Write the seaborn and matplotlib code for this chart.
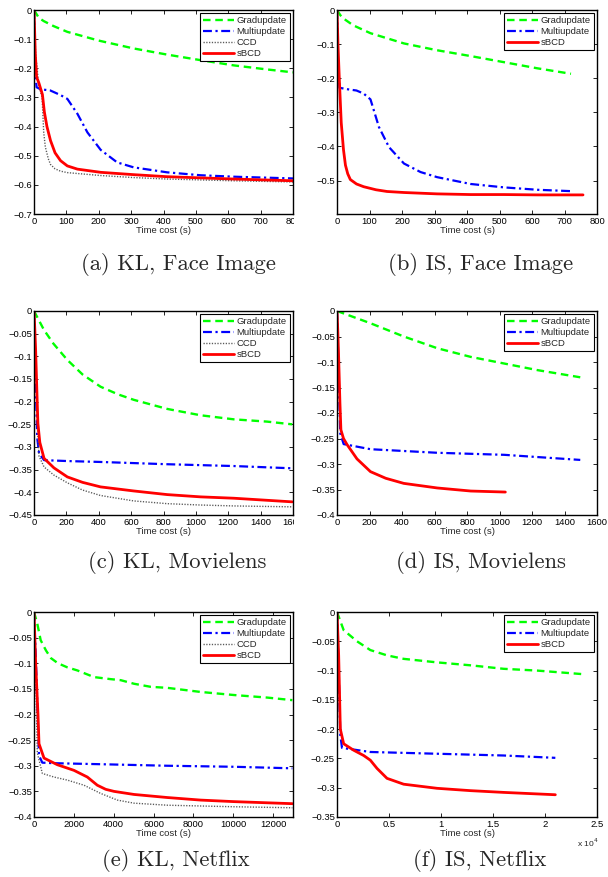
import matplotlib
matplotlib.use("Agg")
import matplotlib.pyplot as plt
import seaborn as sns
from matplotlib.ticker import FuncFormatter, FixedLocator
from matplotlib.transforms import Bbox, TransformedBbox

# ---------------- data ----------------
# (a) KL, Face Image
grad_a_t = [0, 15, 30, 60, 103, 200, 308, 411, 514, 617, 720, 800]
grad_a_v = [0, -0.027, -0.038, -0.055, -0.075, -0.105, -0.132, -0.153, -0.172, -0.19, -0.204, -0.214]
multi_a_t = [0, 3, 8, 20, 50, 82, 103, 134, 165, 206, 257, 308, 411, 514, 617, 800]
multi_a_v = [0, -0.2, -0.265, -0.272, -0.276, -0.292, -0.305, -0.356, -0.42, -0.48, -0.523, -0.54, -0.557, -0.567, -0.572, -0.578]
ccd_a_t = [0, 5, 15, 25, 30, 35, 44, 51, 65, 82, 103, 154, 206, 308, 411, 617, 800]
ccd_a_v = [0, -0.15, -0.26, -0.3, -0.42, -0.47, -0.51, -0.53, -0.545, -0.553, -0.558, -0.563, -0.568, -0.575, -0.58, -0.586, -0.59]
sbcd_a_t = [0, 4, 8, 15, 26, 32, 40, 51, 65, 82, 103, 134, 206, 308, 411, 514, 617, 800]
sbcd_a_v = [0, -0.15, -0.23, -0.25, -0.29, -0.35, -0.4, -0.448, -0.49, -0.517, -0.535, -0.546, -0.557, -0.565, -0.572, -0.576, -0.58, -0.586]

# (b) IS, Face Image
grad_b_t = [0, 10, 20, 50, 103, 206, 308, 411, 514, 617, 720]
grad_b_v = [0, -0.015, -0.025, -0.045, -0.068, -0.098, -0.118, -0.135, -0.153, -0.171, -0.187]
multi_b_t = [0, 3, 8, 30, 60, 82, 103, 129, 160, 206, 257, 308, 411, 514, 617, 720]
multi_b_v = [0, -0.15, -0.228, -0.232, -0.236, -0.245, -0.262, -0.343, -0.402, -0.45, -0.475, -0.49, -0.51, -0.52, -0.527, -0.531]
sbcd_b_t = [0, 3, 7, 10, 13, 20, 26, 33, 41, 60, 82, 120, 154, 206, 308, 411, 514, 617, 757]
sbcd_b_v = [0, -0.1, -0.2, -0.265, -0.33, -0.41, -0.455, -0.48, -0.497, -0.51, -0.518, -0.527, -0.532, -0.535, -0.539, -0.541, -0.541, -0.542, -0.542]

# (c) KL, Movielens
grad_c_t = [0, 62, 120, 206, 300, 411, 520, 617, 823, 1029, 1235, 1440, 1595]
grad_c_v = [0, -0.042, -0.072, -0.108, -0.14, -0.167, -0.184, -0.196, -0.216, -0.23, -0.239, -0.244, -0.25]
multi_c_t = [0, 10, 20, 31, 62, 206, 411, 823, 1235, 1595]
multi_c_v = [0, -0.15, -0.28, -0.314, -0.329, -0.331, -0.333, -0.338, -0.342, -0.347]
ccd_c_t = [0, 10, 20, 31, 62, 123, 206, 300, 411, 617, 823, 1029, 1235, 1595]
ccd_c_v = [0, -0.1, -0.25, -0.32, -0.344, -0.362, -0.379, -0.395, -0.407, -0.419, -0.425, -0.428, -0.43, -0.432]
sbcd_c_t = [0, 5, 10, 18, 24, 36, 62, 123, 206, 300, 411, 617, 823, 1029, 1235, 1595]
sbcd_c_v = [0, -0.04, -0.085, -0.18, -0.248, -0.29, -0.325, -0.346, -0.366, -0.378, -0.388, -0.397, -0.405, -0.41, -0.413, -0.421]

# (d) IS, Movielens
grad_d_t = [0, 103, 206, 411, 617, 823, 1029, 1235, 1497]
grad_d_v = [0, -0.012, -0.024, -0.05, -0.073, -0.09, -0.103, -0.116, -0.13]
multi_d_t = [0, 10, 20, 41, 206, 617, 1029, 1497]
multi_d_v = [0, -0.12, -0.24, -0.261, -0.271, -0.278, -0.282, -0.292]
sbcd_d_t = [0, 5, 10, 18, 24, 40, 62, 123, 206, 300, 411, 617, 823, 1036]
sbcd_d_v = [0, -0.04, -0.09, -0.18, -0.233, -0.25, -0.262, -0.29, -0.315, -0.328, -0.338, -0.347, -0.353, -0.355]

# (e) KL, Netflix
grad_e_t = [0, 167, 335, 600, 850, 1200, 1673, 2175, 3011, 3847, 4350, 5019, 5857, 6691, 8364, 10036, 11709, 12968]
grad_e_v = [0, -0.023, -0.055, -0.075, -0.09, -0.1, -0.108, -0.114, -0.127, -0.131, -0.133, -0.14, -0.146, -0.148, -0.156, -0.162, -0.167, -0.172]
multi_e_t = [0, 100, 200, 251, 418, 1000, 3346, 6691, 10036, 12968]
multi_e_v = [0, -0.1, -0.22, -0.28, -0.294, -0.295, -0.297, -0.3, -0.302, -0.305]
ccd_e_t = [0, 84, 167, 418, 1000, 1673, 2510, 3346, 4183, 5019, 6691, 10036, 12968]
ccd_e_v = [0, -0.12, -0.275, -0.315, -0.322, -0.328, -0.338, -0.354, -0.367, -0.373, -0.377, -0.38, -0.382]
sbcd_e_t = [0, 84, 200, 251, 502, 1171, 2007, 2676, 3178, 3600, 4015, 5019, 6691, 8364, 10036, 12968]
sbcd_e_v = [0, -0.1, -0.2, -0.257, -0.285, -0.298, -0.309, -0.322, -0.338, -0.346, -0.35, -0.356, -0.362, -0.367, -0.37, -0.374]

# (f) IS, Netflix
grad_f_t = [0, 641, 1923, 3205, 4800, 6410, 9615, 12821, 16026, 19231, 23558]
grad_f_v = [0, -0.031, -0.05, -0.065, -0.074, -0.08, -0.086, -0.091, -0.097, -0.1, -0.106]
multi_f_t = [0, 160, 320, 481, 3205, 9615, 16026, 20994]
multi_f_v = [0, -0.1, -0.21, -0.232, -0.239, -0.242, -0.245, -0.249]
sbcd_f_t = [0, 160, 320, 641, 1603, 2564, 3205, 3846, 4808, 6410, 9615, 12821, 16026, 20994]
sbcd_f_v = [0, -0.074, -0.2, -0.225, -0.236, -0.245, -0.253, -0.267, -0.284, -0.294, -0.301, -0.305, -0.308, -0.312]

captions = ["(a) KL, Face Image", "(b) IS, Face Image", "(c) KL, Movielens",
            "(d) IS, Movielens", "(e) KL, Netflix", "(f) IS, Netflix"]
series_names = ["Gradupdate", "Multiupdate", "CCD", "sBCD"]
xlabel_text = "Time cost (s)"

# ---------------- style ----------------
sns.set_theme(style="white")
plt.rcParams["font.family"] = ["Liberation Sans", "DejaVu Sans"]

FS = 6.8
styles = {
    "Gradupdate": dict(color=(0, 1, 0), linestyle=(0, (3.2, 2.0)), linewidth=1.7),
    "Multiupdate": dict(color=(0, 0, 1), linestyle=(0, (4.0, 1.6, 1.0, 1.6)), linewidth=1.6),
    "CCD": dict(color=(0.35, 0.35, 0.35), linestyle=(0, (0.9, 1.1)), linewidth=1.0),
    "sBCD": dict(color=(1, 0, 0), linestyle="-", linewidth=2.0),
}

W, H = 608, 877
fig = plt.figure(figsize=(W / 100, H / 100), dpi=100)


def fx(px):
    return px / W


def fy(px):
    return 1 - px / H


col_x = [(34, 293), (337, 597)]
row_y = [(10, 214), (311, 515), (612, 817)]

panels = [
    dict(series=[("Gradupdate", grad_a_t, grad_a_v), ("Multiupdate", multi_a_t, multi_a_v),
                 ("CCD", ccd_a_t, ccd_a_v), ("sBCD", sbcd_a_t, sbcd_a_v)],
         xlim=(0, 800), xticks=[0, 100, 200, 300, 400, 500, 600, 700, 800],
         ylim=(-0.7, 0), yticks=[-0.7, -0.6, -0.5, -0.4, -0.3, -0.2, -0.1, 0], clip=True),
    dict(series=[("Gradupdate", grad_b_t, grad_b_v), ("Multiupdate", multi_b_t, multi_b_v),
                 ("sBCD", sbcd_b_t, sbcd_b_v)],
         xlim=(0, 800), xticks=[0, 100, 200, 300, 400, 500, 600, 700, 800],
         ylim=(-0.598, 0), yticks=[-0.5, -0.4, -0.3, -0.2, -0.1, 0], clip=False),
    dict(series=[("Gradupdate", grad_c_t, grad_c_v), ("Multiupdate", multi_c_t, multi_c_v),
                 ("CCD", ccd_c_t, ccd_c_v), ("sBCD", sbcd_c_t, sbcd_c_v)],
         xlim=(0, 1600), xticks=[0, 200, 400, 600, 800, 1000, 1200, 1400, 1600],
         ylim=(-0.45, 0), yticks=[-0.45, -0.4, -0.35, -0.3, -0.25, -0.2, -0.15, -0.1, -0.05, 0], clip=True),
    dict(series=[("Gradupdate", grad_d_t, grad_d_v), ("Multiupdate", multi_d_t, multi_d_v),
                 ("sBCD", sbcd_d_t, sbcd_d_v)],
         xlim=(0, 1600), xticks=[0, 200, 400, 600, 800, 1000, 1200, 1400, 1600],
         ylim=(-0.4, 0), yticks=[-0.4, -0.35, -0.3, -0.25, -0.2, -0.15, -0.1, -0.05, 0], clip=False),
    dict(series=[("Gradupdate", grad_e_t, grad_e_v), ("Multiupdate", multi_e_t, multi_e_v),
                 ("CCD", ccd_e_t, ccd_e_v), ("sBCD", sbcd_e_t, sbcd_e_v)],
         xlim=(0, 13000), xticks=[0, 2000, 4000, 6000, 8000, 10000, 12000],
         ylim=(-0.4, 0), yticks=[-0.4, -0.35, -0.3, -0.25, -0.2, -0.15, -0.1, -0.05, 0], clip=False),
    dict(series=[("Gradupdate", grad_f_t, grad_f_v), ("Multiupdate", multi_f_t, multi_f_v),
                 ("sBCD", sbcd_f_t, sbcd_f_v)],
         xlim=(0, 25000), xticks=[0, 5000, 10000, 15000, 20000, 25000],
         ylim=(-0.35, 0), yticks=[-0.35, -0.3, -0.25, -0.2, -0.15, -0.1, -0.05, 0], clip=False,
         scale=1e4),
]

caption_pos = [(178, 264), (481, 264), (177, 563), (481, 563), (176, 860), (480, 860)]


def yfmt(v, pos):
    if abs(v) < 1e-12:
        return "0"
    return ("%g" % v).replace("-", "\u2212")


for i, p in enumerate(panels):
    r, c = divmod(i, 2)
    x0, x1 = col_x[c]
    y0, y1 = row_y[r]
    ax = fig.add_axes([fx(x0), fy(y1), fx(x1) - fx(x0), fy(y0) - fy(y1)])
    for name, t, v in p["series"]:
        st = styles[name]
        sns.lineplot(x=t, y=v, ax=ax, label=name, color=st["color"],
                     linestyle=st["linestyle"], linewidth=st["linewidth"])
    ax.set_xlim(*p["xlim"])
    ax.set_ylim(*p["ylim"])
    ax.xaxis.set_major_locator(FixedLocator(p["xticks"]))
    ax.yaxis.set_major_locator(FixedLocator(p["yticks"]))
    scale = p.get("scale", None)
    if scale:
        ax.xaxis.set_major_formatter(FuncFormatter(lambda v, pos, s=scale: "%g" % (v / s)))
    else:
        ax.xaxis.set_major_formatter(FuncFormatter(lambda v, pos: "%g" % v))
    ax.yaxis.set_major_formatter(FuncFormatter(yfmt))
    ax.tick_params(direction="in", length=3, width=0.6, labelsize=FS, pad=2,
                   top=True, right=True, bottom=True, left=True, colors="black")
    ax.tick_params(axis="y", pad=1.5)
    for sp in ax.spines.values():
        sp.set_visible(True)
        sp.set_color("black")
        sp.set_linewidth(1.0)
    ax.set_xlabel(xlabel_text, fontsize=FS, labelpad=0.5)
    ax.set_ylabel("")
    leg = ax.legend(loc="upper right", fontsize=FS, frameon=True, fancybox=False,
                    edgecolor="black", framealpha=1, borderaxespad=0.35, borderpad=0.3,
                    labelspacing=0.22, handlelength=3.3, handletextpad=0.3)
    leg.get_frame().set_linewidth(0.8)
    if p["clip"]:
        fig.canvas.draw()
        bb = TransformedBbox(Bbox([[0, 0], [fx(x1 + 0.5), 1]]), fig.transFigure)
        for lab in ax.get_xticklabels():
            lab.set_clip_on(True)
            lab.set_clip_box(bb)
    if scale:
        fig.text(fx(x1 - 20), fy(843), r"x 10$^4$", fontsize=FS - 0.7, ha="left", va="center")
    cx, cy = caption_pos[i]
    fig.text(fx(cx), fy(cy), captions[i], family="cmr10", fontsize=16.3,
             ha="center", va="center")

fig.savefig("out.png", dpi=100)
